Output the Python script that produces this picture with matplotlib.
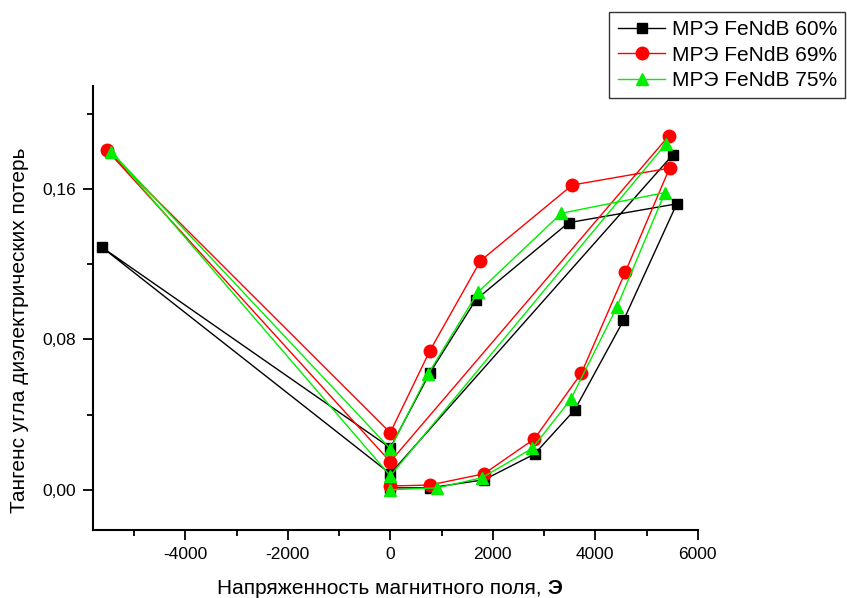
import matplotlib
matplotlib.use("Agg")
import matplotlib.pyplot as plt
from matplotlib.ticker import MultipleLocator, FuncFormatter

plt.rcParams['font.family'] = ['Liberation Sans', 'DejaVu Sans']
plt.rcParams['axes.unicode_minus'] = False

# Data in measurement order (lower branch, return branch, negative field, back)
h_60 = [0, 770, 1830, 2815, 3600, 4550, 5590, 3480, 1670, 770, 0, -5630, 0, 5510]
tg_60 = [0.001, 0.001, 0.0053, 0.019, 0.0425, 0.090, 0.152, 0.142, 0.101, 0.062,
         0.0223, 0.129, 0.0085, 0.178]

h_69 = [0, 770, 1830, 2810, 3730, 4590, 5450, 3550, 1760, 770, 0, -5530, 0, 5430]
tg_69 = [0.002, 0.0025, 0.0085, 0.027, 0.062, 0.116, 0.171, 0.162, 0.1217, 0.0738,
         0.0303, 0.1806, 0.0149, 0.188]

h_75 = [0, 920, 1790, 2770, 3520, 4420, 5360, 3340, 1710, 740, 0, -5440, 0, 5380]
tg_75 = [0.0, 0.001, 0.0064, 0.022, 0.048, 0.097, 0.158, 0.147, 0.105, 0.0616,
         0.0218, 0.1796, 0.0074, 0.184]

fig = plt.figure(figsize=(8.47, 5.98), dpi=100)
ax = fig.add_axes([0.1098, 0.1137, 0.714, 0.742])

ax.plot(h_60, tg_60, color='black', lw=1, marker='s', ms=7.5, label='МРЭ FeNdB 60%')
ax.plot(h_69, tg_69, color='red', lw=1, marker='o', ms=9, label='МРЭ FeNdB 69%')
ax.plot(h_75, tg_75, color='#00ee00', lw=1, marker='^', ms=9, label='МРЭ FeNdB 75%')

ax.set_xlim(-5800, 6000)
ax.set_ylim(-0.0214, 0.2145)
ax.xaxis.set_major_locator(MultipleLocator(2000))
ax.xaxis.set_minor_locator(MultipleLocator(1000))
ax.yaxis.set_major_locator(MultipleLocator(0.08))
ax.yaxis.set_minor_locator(MultipleLocator(0.04))
ax.yaxis.set_major_formatter(FuncFormatter(lambda v, p: f"{v:.2f}".replace('.', ',')))

for s in ['top', 'right']:
    ax.spines[s].set_visible(False)
for s in ['left', 'bottom']:
    ax.spines[s].set_linewidth(1.5)
ax.tick_params(which='major', direction='out', length=7, width=1.3, labelsize=12.5, pad=5)
ax.tick_params(which='minor', direction='out', length=4, width=1.3)

fig.text(20 / 847, 1 - 330 / 598, 'Тангенс угла диэлектрических потерь', fontsize=15,
         rotation=90, ha='center', va='center')

# x label with bold unit
fig.canvas.draw()
t1 = fig.text(217 / 847, 0.006, 'Напряженность магнитного поля, ', fontsize=15,
              ha='left', va='baseline')
bb = t1.get_window_extent(fig.canvas.get_renderer())
fig.text(bb.x1 / fig.bbox.width, 0.006, 'Э', fontsize=15, fontweight='bold',
         ha='left', va='baseline')

leg = fig.legend(loc='upper right', bbox_to_anchor=(0.998, 0.98), fontsize=15,
                 frameon=True, fancybox=False, edgecolor='black',
                 handlelength=2.3, borderpad=0.4, labelspacing=0.3,
                 handletextpad=0.3, borderaxespad=0)
leg.get_frame().set_linewidth(1)

fig.savefig('out.png', dpi=100)
